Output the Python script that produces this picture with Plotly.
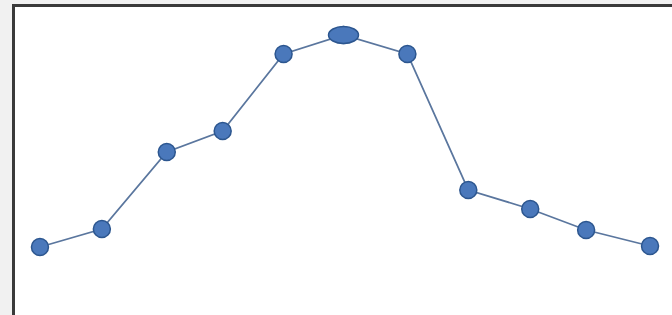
import plotly.graph_objects as go

# Data (arbitrary units)
x_vals = [26, 88, 153, 209, 270, 330, 394, 455, 517, 573, 637]
y_vals = [68, 86, 163, 184, 261, 280, 261, 125, 106, 85, 69]

marker_fill = "#4a78bb"
marker_edge = "#2c568f"
line_col = "#5a769e"

fig = go.Figure()
fig.add_trace(go.Scatter(
    x=x_vals, y=y_vals, mode="lines+markers",
    line=dict(color=line_col, width=1.8),
    marker=dict(size=17, color=marker_fill, line=dict(color=marker_edge, width=1.5)),
    showlegend=False, hoverinfo="skip",
))

# peak point drawn as an ellipse
i_max = y_vals.index(max(y_vals))
fig.add_shape(type="circle", xref="x", yref="y",
              x0=x_vals[i_max] - 15, x1=x_vals[i_max] + 15,
              y0=y_vals[i_max] - 8.5, y1=y_vals[i_max] + 8.5,
              fillcolor=marker_fill, line=dict(color=marker_edge, width=1.5),
              layer="above")

fig.update_layout(
    width=672, height=315,
    margin=dict(l=15, r=0, t=7, b=0),
    paper_bgcolor="#f1f1f1",
    plot_bgcolor="white",
    xaxis=dict(range=[1, 659], showgrid=False, zeroline=False,
               showticklabels=False, ticks="", side="top",
               showline=True, linecolor="#3a3a3a", linewidth=3),
    yaxis=dict(range=[0, 308], showgrid=False, zeroline=False,
               showticklabels=False, ticks="",
               showline=True, linecolor="#3a3a3a", linewidth=3),
)

fig.write_html("out.html", config={"displayModeBar": False},
               post_script="document.body.style.margin='0';")
